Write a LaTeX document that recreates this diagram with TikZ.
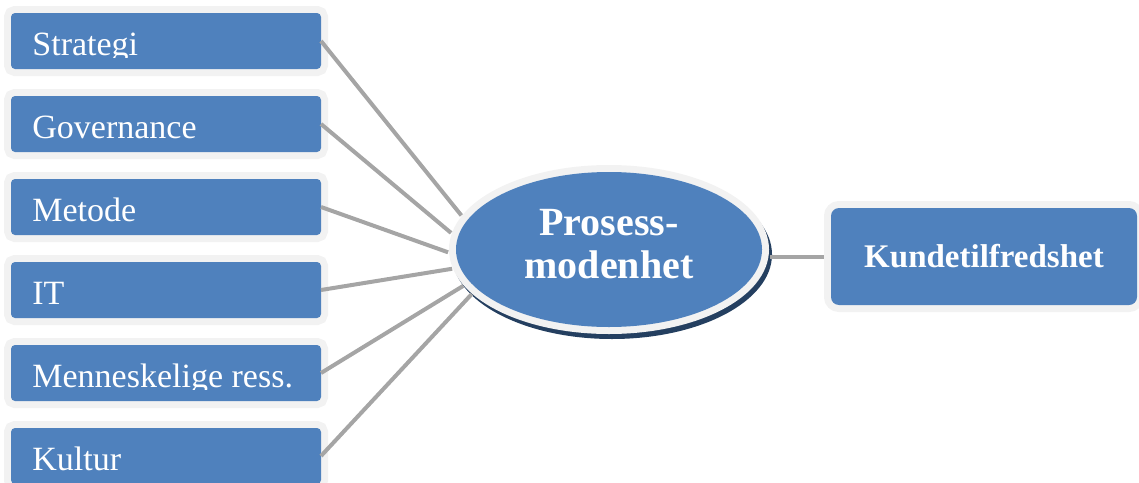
\documentclass[tikz,border=0pt]{standalone}
\usepackage{fontspec}
\setmainfont{Liberation Serif}
\usetikzlibrary{shapes.geometric}
\definecolor{cBlue}{HTML}{4F81BD}
\definecolor{cRing}{HTML}{F2F2F2}
\definecolor{cLine}{HTML}{A5A5A5}
\definecolor{cShade}{HTML}{243F60}
\tikzset{
  lbox/.style={fill=cBlue,rounded corners=2pt,minimum width=155pt,minimum height=28pt,inner sep=0pt,outer sep=0pt,preaction={draw=cRing,line width=7pt}},
  ltxt/.style={text=white,font=\fontsize{17}{20}\selectfont,inner sep=0pt,anchor=base west},
  hub/.style={ellipse,fill=cBlue,minimum width=153pt,minimum height=77.5pt,inner sep=0pt,outer sep=4pt,preaction={draw=cRing,line width=7pt},text=white,font=\bfseries\fontsize{20}{21.5}\selectfont,align=center,text depth=6pt},
  rbox/.style={fill=cBlue,rounded corners=4pt,minimum width=153pt,minimum height=48.5pt,inner sep=0pt,outer sep=3.5pt,preaction={draw=cRing,line width=7pt},text=white,font=\bfseries\fontsize{16.5}{20}\selectfont},
  conn/.style={draw=cLine,line width=2pt},
}

\begin{document}
\begin{tikzpicture}[x=0.5pt,y=-0.5pt]
  \useasboundingbox (0,0) rectangle (1139,482);
  % dark rim under the centre ellipse
  \fill[cShade] (612,254.5) ellipse [x radius=80pt,y radius=42.25pt];
  \node[hub] (pm) at (609,249.5) {Prosess-\\modenhet};
  \node[rbox] (kt) at (984,256.5) {Kundetilfredshet};
  \foreach \i/\txt/\a in {0/Strategi/167,1/Governance/174,2/Metode/181.5,3/IT/187.5,4/Menneskelige ress./194.5,5/Kultur/198.5}{
    \pgfmathsetmacro\y{41+83*\i}
    \node[lbox] (f\i) at (166,\y) {};
    \begin{scope}
      \clip (11,\y-28) rectangle (321,\y+16);
      \node[ltxt] (t\i) at (32,\y+14) {\txt};
    \end{scope}
    \draw[conn] (f\i.east) -- (pm.\a);
  }
  \draw[conn] (kt.west -| pm.east) -- (kt.west);
\end{tikzpicture}
\end{document}
